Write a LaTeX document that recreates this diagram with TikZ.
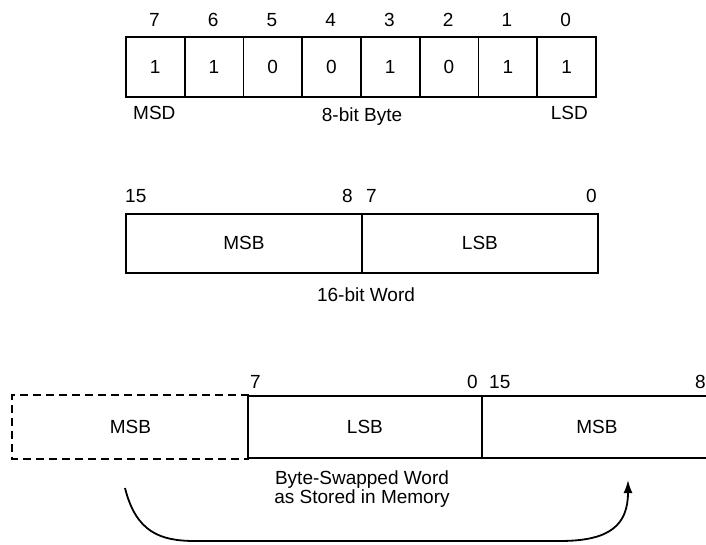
\documentclass[tikz,border=0pt]{standalone}
\usepackage{fontspec}
\setmainfont{Liberation Sans}
\usetikzlibrary{arrows.meta}
\newcommand{\lblfont}{\fontsize{19}{19.5}\selectfont}
\begin{document}
\begin{tikzpicture}[x=1pt,y=-1pt,
  box/.style={draw, line width=1.8pt, inner sep=0pt, anchor=north west, font=\lblfont},
  cell/.style={box, minimum width=58.75pt, minimum height=60pt},
  half/.style={box, minimum width=236pt, minimum height=59pt},
  swap/.style={box, minimum height=62pt},
  lab/.style={inner sep=0pt, font=\lblfont},
  dashline/.style={line width=1.8pt, dash pattern=on 8pt off 5pt},
  arr/.style={line width=1.8pt, -{Latex[length=13pt,width=9pt]}}
]
\useasboundingbox (0,0) rectangle (706,545);
\clip (0,0) rectangle (706,545);

% 8-bit byte
\foreach \i/\v/\b in {0/1/7,1/1/6,2/0/5,3/0/4,4/1/3,5/0/2,6/1/1,7/1/0}{
  \node[cell] (c\b) at ({125+58.75*\i},36) {\v};
  \node[lab] (n\b) at ({154.4+58.75*\i},20) {\b};
}
\node[lab, anchor=west] (msd) at (133,113) {MSD};
\node[lab] (bytelbl) at (362,117) {8-bit Byte};
\node[lab, anchor=east] (lsd) at (588,113) {LSD};

% 16-bit word
\node[half] (wmsb) at (125,213) {MSB};
\node[half] (wlsb) at (361,213) {LSB};
\node[lab, anchor=west] (w15) at (125,196) {15};
\node[lab, anchor=east] (w8) at (353,196) {8};
\node[lab, anchor=west] (w7) at (366,196) {7};
\node[lab, anchor=east] (w0) at (597,196) {0};
\node[lab] (wordlbl) at (366,295) {16-bit Word};

% byte-swapped word
\node[swap, draw=none, minimum width=235pt] (dmsb) at (12,395) {MSB};
\draw[dashline] (dmsb.north east) -- (dmsb.north west) -- (dmsb.south west) -- (dmsb.south east);
\node[swap, minimum width=234pt] (slsb) at (247,395) {LSB};
\node[swap, minimum width=230pt] (smsb) at (481,395) {MSB};
\node[lab, anchor=west] (s7) at (250,382) {7};
\node[lab, anchor=east] (s0) at (478,382) {0};
\node[lab, anchor=west] (s15) at (489,382) {15};
\node[lab, anchor=east] (s8) at (706,382) {8};
\node[lab, align=center] (swaplbl) at (362,489) {Byte-Swapped Word\\as Stored in Memory};

\coordinate (a1) at (125,488);
\coordinate (a2) at (628,480);
\draw[arr] (a1) .. controls (136,532) and (160,541) .. (195,541) -- (560,541) .. controls (610,541) and (628,525) .. (a2);
\end{tikzpicture}
\end{document}
